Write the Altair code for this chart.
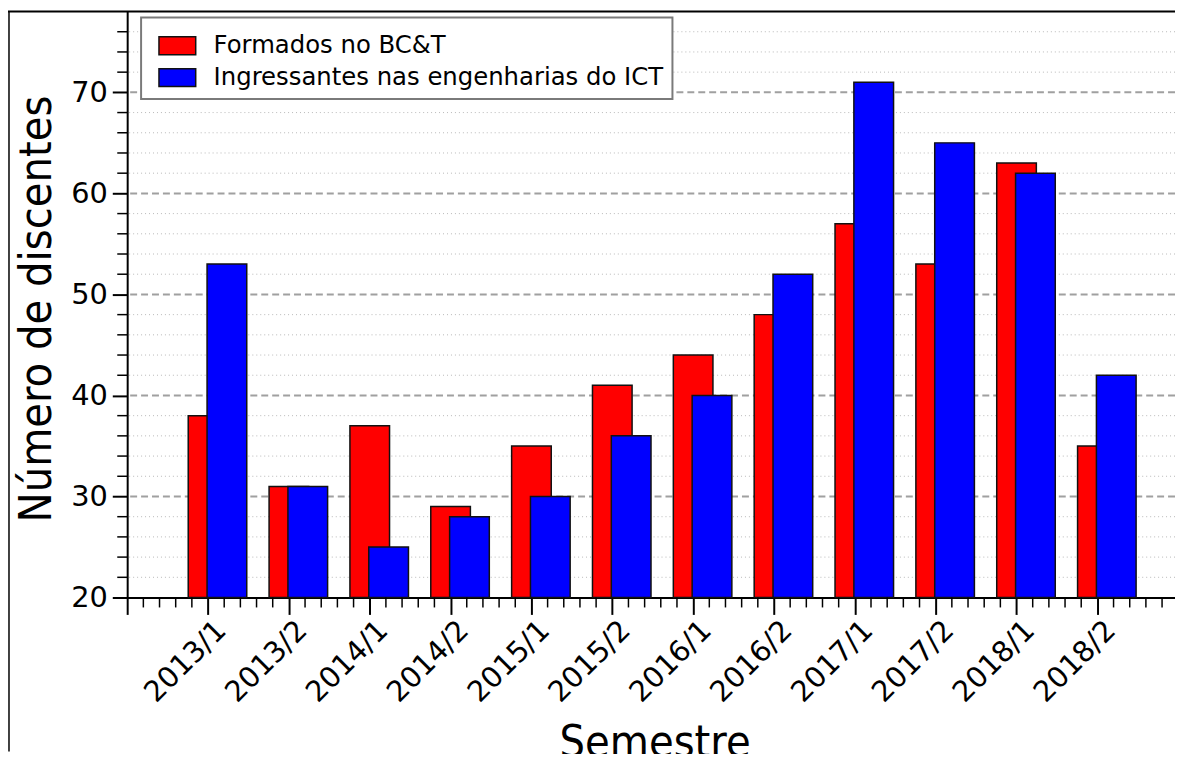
import altair as alt
import pandas as pd

# ---- data ----
semestres = ["2013/1", "2013/2", "2014/1", "2014/2", "2015/1", "2015/2",
             "2016/1", "2016/2", "2017/1", "2017/2", "2018/1", "2018/2"]
formados = [38, 31, 37, 29, 35, 41, 44, 48, 57, 53, 63, 35]
ingressantes = [53, 31, 25, 28, 30, 36, 40, 52, 71, 65, 62, 42]
serie_nomes = ["Formados no BC&T", "Ingressantes nas engenharias do ICT"]
serie_cores = ["#ff0000", "#0000ff"]
y_major = [30, 40, 50, 60, 70]
y_labels = [20, 30, 40, 50, 60, 70]

# ---- table built from the arrays ----
rows = []
for i, s in enumerate(semestres):
    rows.append({"sem": s, "idx": i + 1, "serie": serie_nomes[0], "valor": formados[i]})
for i, s in enumerate(semestres):
    rows.append({"sem": s, "idx": i + 1, "serie": serie_nomes[1], "valor": ingressantes[i]})
df = pd.DataFrame(rows)

minor_grid = pd.DataFrame({"valor": [v for v in range(22, 78, 2) if v % 10 != 0]})
major_grid = pd.DataFrame({"valor": y_major})
x_minor = pd.DataFrame({"x0": [round(k * 0.2, 2) for k in range(0, 65) if k % 5 != 0]})
y_minor = pd.DataFrame({"valor": [v for v in range(22, 78, 2) if v % 10 != 0]})

W, H = 1055, 590
PAD_L, PAD_T, PAD_B = 120, 1, 155

xscale = alt.Scale(domain=[0, 12.96], nice=False, zero=False)
yscale = alt.Scale(domain=[20, 78], nice=False, zero=False)
cscale = alt.Scale(domain=serie_nomes, range=serie_cores)

TICKFONT = "DejaVu Sans"
TITLEFONT = "'Liberation Sans Narrow', 'DejaVu Sans Condensed', 'DejaVu Sans', sans-serif"
LABEL_SIZE = 29

label_expr = "datum.value >= 1 ? " + str(semestres) + "[datum.value - 1] : ''"

x_axis = alt.Axis(values=list(range(0, 13)), labelExpr=label_expr, labelAngle=-45,
                  labelAlign="right", labelBaseline="middle", labelFontSize=LABEL_SIZE,
                  labelFont=TICKFONT, labelColor="black", labelPadding=11, labelOffset=13,
                  labelOverlap=False, labelFlush=False,
                  tickSize=17, tickWidth=2, tickColor="black",
                  domainColor="black", domainWidth=2, grid=False,
                  title="Semestre", titleFont=TITLEFONT, titleFontSize=45,
                  titleFontWeight="normal", titleColor="black",
                  titleX=531, titleY=160, titleBaseline="alphabetic", titleAlign="center")
y_axis = alt.Axis(values=y_labels, labelFontSize=LABEL_SIZE, labelFont=TICKFONT, labelColor="black",
                  labelPadding=5, labelFlush=False, tickSize=15, tickWidth=2, tickColor="black",
                  domainColor="black", domainWidth=2, grid=False,
                  title="Número de discentes", titleFont=TITLEFONT, titleFontSize=45,
                  titleFontWeight="normal", titleColor="black", titleAngle=-90,
                  titleX=-77, titleY=299, titleBaseline="alphabetic", titleAlign="center")

legend = alt.Legend(title=None, orient="none", legendX=14, legendY=6,
                    symbolType="M-1,-0.486L1,-0.486L1,0.486L-1,0.486Z", symbolSize=1369,
                    symbolStrokeColor="#111111", symbolStrokeWidth=1.5, symbolOpacity=1,
                    symbolOffset=8,
                    labelFont=TICKFONT, labelFontSize=24.5, labelColor="black", labelLimit=0,
                    labelOffset=17, padding=9, rowPadding=0,
                    fillColor="white", strokeColor="#7a7a7a")

minor_layer = alt.Chart(minor_grid).mark_rule(color="#b8b8b8", strokeWidth=1, strokeDash=[1, 3]).encode(
    y=alt.Y("valor:Q", scale=yscale, axis=y_axis))
major_layer = alt.Chart(major_grid).mark_rule(color="#a0a0a0", strokeWidth=2, strokeDash=[7, 4]).encode(
    y=alt.Y("valor:Q", scale=yscale, axis=y_axis))

red = alt.Chart(df).transform_filter(
    alt.datum.serie == serie_nomes[0]
).transform_calculate(x0="datum.idx - 0.245", x1="datum.idx + 0.245").mark_bar(
    stroke="#111111", strokeWidth=1.5, opacity=1).encode(
    x=alt.X("x0:Q", scale=xscale, axis=x_axis),
    x2="x1:Q",
    y=alt.Y("valor:Q", scale=yscale, axis=y_axis),
    y2=alt.datum(20),
    color=alt.Color("serie:N", scale=cscale, legend=legend),
)
blue = alt.Chart(df).transform_filter(
    alt.datum.serie == serie_nomes[1]
).transform_calculate(x0="datum.idx - 0.012", x1="datum.idx + 0.479").mark_bar(
    stroke="#111111", strokeWidth=1.5, opacity=1).encode(
    x=alt.X("x0:Q", scale=xscale, axis=x_axis),
    x2="x1:Q",
    y=alt.Y("valor:Q", scale=yscale, axis=y_axis),
    y2=alt.datum(20),
    color=alt.Color("serie:N", scale=cscale, legend=legend),
)

xminor_layer = alt.Chart(x_minor).mark_rule(color="black", strokeWidth=1.5).encode(
    x=alt.X("x0:Q", scale=xscale, axis=x_axis), y=alt.value(H), y2=alt.value(H + 10))
yminor_layer = alt.Chart(y_minor).mark_rule(color="black", strokeWidth=1.5).encode(
    y=alt.Y("valor:Q", scale=yscale, axis=y_axis), x=alt.value(-10), x2=alt.value(0))

one = alt.Data(values=[{"k": 1}])
frame_top = alt.Chart(one).mark_rule(color="black", strokeWidth=2).encode(
    x=alt.value(-PAD_L), x2=alt.value(W), y=alt.value(0))
frame_left = alt.Chart(one).mark_rule(color="black", strokeWidth=1.5).encode(
    x=alt.value(-PAD_L + 1), y=alt.value(0), y2=alt.value(H + PAD_B))

chart = alt.layer(minor_layer, major_layer, red, blue, xminor_layer, yminor_layer,
                  frame_top, frame_left).properties(
    width=W, height=H,
    autosize=alt.AutoSizeParams(type="none"),
    padding={"left": PAD_L, "top": PAD_T, "right": 0, "bottom": PAD_B},
    background="white",
).configure_view(stroke=None).configure_legend(strokeWidth=2).configure_axis(
    labelFontSize=LABEL_SIZE, labelFont=TICKFONT, labelColor="black")

chart.save("out.html", embed_options={"renderer": "svg", "actions": False})
